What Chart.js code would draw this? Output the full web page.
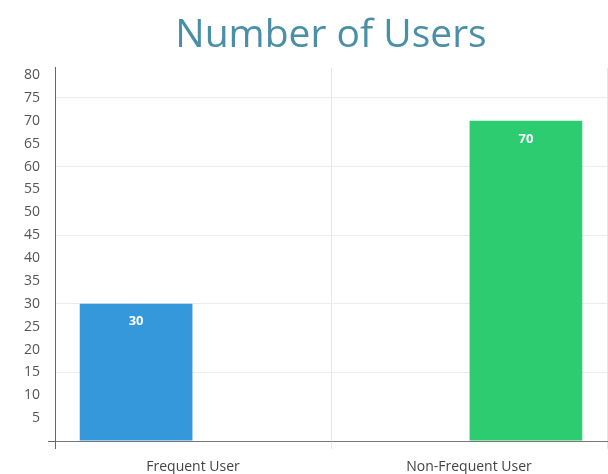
<!DOCTYPE html>
<html lang="en">
<head>
  <meta charset="UTF-8" />
  <title>Number of Users</title>
  <script src="https://cdn.jsdelivr.net/npm/chart.js"></script>
  <style>
    body { margin: 0; padding: 0; background: #fff; overflow: hidden; }
    #wrap { width: 608px; height: 474px; position: relative; }
  </style>
</head>
<body>
  <div id="wrap"><canvas id="usersChart"></canvas></div>

  <script>
    const categories = ['Frequent User', 'Non-Frequent User'];
    const frequentUsers = [30, null];
    const nonFrequentUsers = [null, 70];
    const yTicks = [0, 5, 10, 15, 20, 25, 30, 35, 40, 45, 50, 55, 60, 65, 70, 75, 80];

    // white value labels near the top of each bar
    const barValues = {
      id: 'barValues',
      afterDatasetsDraw(chart) {
        const ctx = chart.ctx;
        ctx.save();
        ctx.fillStyle = '#ffffff';
        ctx.font = 'bold 13px "Open Sans", sans-serif';
        ctx.textAlign = 'center';
        ctx.textBaseline = 'middle';
        chart.data.datasets.forEach((ds, i) => {
          chart.getDatasetMeta(i).data.forEach((bar, j) => {
            if (ds.data[j] == null) return;
            ctx.fillText(ds.data[j], bar.x, bar.y + 18);
          });
        });
        ctx.restore();
      }
    };

    new Chart(document.getElementById('usersChart'), {
      type: 'bar',
      data: {
        labels: categories,
        datasets: [
          { label: 'Frequent User', data: frequentUsers, backgroundColor: '#3498db',
            categoryPercentage: 0.825, barPercentage: 0.99 },
          { label: 'Non-Frequent User', data: nonFrequentUsers, backgroundColor: '#2ecc71',
            categoryPercentage: 0.825, barPercentage: 0.99 }
        ]
      },
      options: {
        responsive: true,
        maintainAspectRatio: false,
        animation: false,
        layout: { padding: { left: 16, right: 1, top: 0, bottom: -11 } },
        plugins: {
          legend: { display: false },
          tooltip: { enabled: false },
          title: {
            display: true,
            text: 'Number of Users',
            fullSize: false,
            color: '#4a8fa8',
            font: { family: '"Open Sans", sans-serif', size: 39, weight: 'normal' },
            padding: { top: 12, bottom: 9 }
          }
        },
        scales: {
          x: {
            grid: {
              offset: true,
              color: c => c.index === 0 ? 'transparent' : '#e6e6e6',
              tickColor: c => c.index === 0 ? '#666' : '#e6e6e6',
              tickLength: 8
            },
            border: { color: '#777' },
            ticks: {
              color: '#444',
              padding: 11,
              font: { family: '"Open Sans", sans-serif', size: 14, lineHeight: 1 }
            }
          },
          y: {
            min: 0,
            max: 81.6,
            afterBuildTicks: axis => { axis.ticks = yTicks.map(v => ({ value: v })); },
            grid: {
              color: c => (c.tick && c.tick.value % 15 === 0 && c.tick.value > 0) ? '#ececec' : 'transparent',
              tickColor: c => (c.tick && c.tick.value === 0) ? '#666' : 'transparent',
              tickLength: 7
            },
            border: { color: '#666' },
            ticks: {
              color: '#555',
              padding: 8,
              callback: v => v === 0 ? '' : v,
              font: { family: '"Open Sans", sans-serif', size: 14 }
            }
          }
        }
      },
      plugins: [barValues]
    });
  </script>
</body>
</html>
